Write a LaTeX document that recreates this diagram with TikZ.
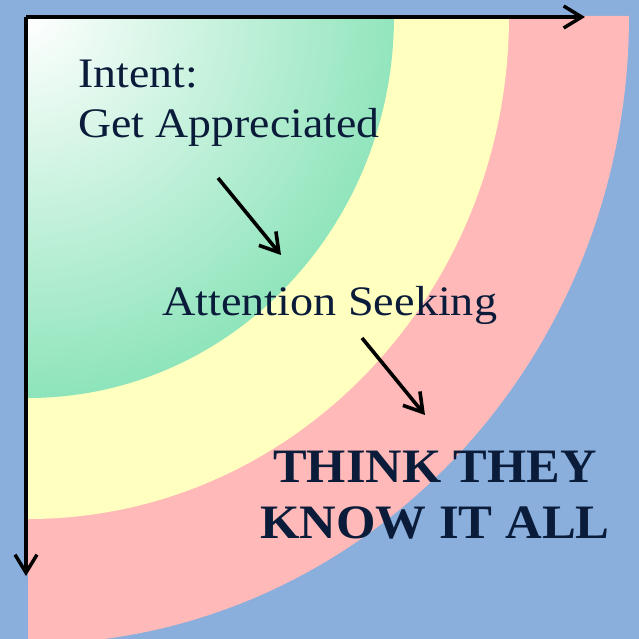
\documentclass[tikz,border=0pt]{standalone}
\usepackage{graphicx}
\usepackage{fontspec}
\setmainfont{Liberation Serif}
\usetikzlibrary{arrows.meta}
\definecolor{bgblue}{RGB}{138,175,220}
\definecolor{pinkc}{RGB}{255,185,185}
\definecolor{yellowc}{RGB}{255,255,191}
\definecolor{greenc}{RGB}{124,224,176}
\definecolor{textc}{RGB}{10,28,58}
\tikzset{
  axisarrow/.style={line width=3.5pt,-{Straight Barb[length=18pt,width=22pt]}},
  ptrarrow/.style={line width=3.6pt,-{Straight Barb[length=18pt,width=22pt]}},
  lbl/.style={inner sep=0pt,text=textc,font=\fontsize{42}{50}\selectfont},
  bold/.style={inner sep=0pt,text=textc,font=\fontsize{48}{56}\selectfont\bfseries}
}
\begin{document}
\begin{tikzpicture}[x=1pt,y=-1pt]
\useasboundingbox (0,0) rectangle (639,639);
\clip (0,0) rectangle (639,639);
\fill[bgblue] (0,0) rectangle (639,639);
% bands
\fill[pinkc] (28,16) -- ++(601,0) arc[start angle=0,end angle=90,x radius=601,y radius=628] -- cycle;
\fill[yellowc] (28,16) -- ++(481,0) arc[start angle=0,end angle=90,x radius=481,y radius=503] -- cycle;
\begin{scope}
\clip (28,16) -- ++(366,0) arc[start angle=0,end angle=90,x radius=366,y radius=382] -- cycle;
\shade[inner color=white,outer color=greenc] (28,16) circle[radius=440];
\end{scope}
% axes
\coordinate (o) at (26,17);
\coordinate (xend) at (585,17);
\coordinate (yend) at (26,576);
\draw[axisarrow] (o) -- (xend);
\draw[axisarrow] (o) -- (yend);
% labels
\node[lbl,anchor=base west] (t1) at (78,88) {\scalebox{1.09}[1]{Intent:}};
\node[lbl,anchor=base west] (t2) at (78,138) {\scalebox{1.09}[1]{Get Appreciated}};
\node[lbl,anchor=base west] (t3) at (162,315) {\scalebox{1.10}[1]{Attention Seeking}};
\node[bold,anchor=base] (t4) at (435,482) {\scalebox{1.05}[1]{THINK THEY}};
\node[bold,anchor=base] (t5) at (435,538) {\scalebox{1.057}[1]{KNOW IT ALL}};
% pointer arrows
\coordinate (a1s) at (218,178);
\coordinate (a1e) at (281,255);
\coordinate (a2s) at (362,338);
\coordinate (a2e) at (425,415);
\draw[ptrarrow] (a1s) -- (a1e);
\draw[ptrarrow] (a2s) -- (a2e);
\end{tikzpicture}
\end{document}
